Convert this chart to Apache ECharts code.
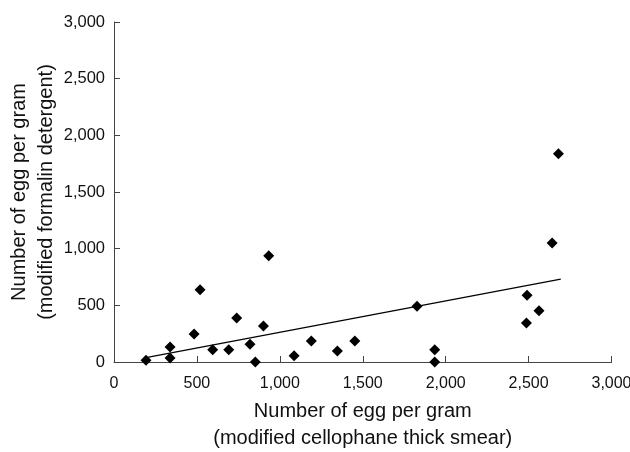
<!DOCTYPE html>
<html>
<head>
<meta charset="utf-8">
<script src="https://cdn.jsdelivr.net/npm/echarts@6/dist/echarts.min.js"></script>
<style>
    html, body { margin: 0; padding: 0; background: #fff; }
    #main { width: 630px; height: 452px; }
</style>
</head>
<body>
<div id="main"></div>
<script>
// 数据 ---------------------------------------------------------------
var cellophaneEpg = [193, 338, 338, 483, 519, 595, 692, 740, 820, 852, 901, 933, 1086, 1190, 1347, 1452, 1827, 1934, 1934, 2491, 2487, 2563, 2642, 2680];
var formalinEpg = [15, 132, 35, 247, 638, 109, 109, 388, 156, 0, 317, 938, 56, 185, 97, 185, 491, 109, 0, 588, 344, 453, 1049, 1838];
var trendX = [193, 2694];
var trendY = [39, 732];
var tickValues = [0, 500, 1000, 1500, 2000, 2500, 3000];

var points = [];
for (i = 0; i < cellophaneEpg.length; i++) {
    points.push([cellophaneEpg[i], formalinEpg[i]]);
}
var trend = [];
for (i = 0; i < trendX.length; i++) {
    trend.push([trendX[i], trendY[i]]);
}

function fmt(v) {
    return v.toString().replace(/\B(?=(\d{3})+(?!\d))/g, ',');
}

var font = 'Liberation Sans';
var myChart = echarts.init(document.getElementById('main'));
var option = {
    animation: false,
    textStyle: { fontFamily: font },
    grid: {
        left: 114,
        right: 18.5,
        top: 22,
        bottom: 90,
        outerBoundsMode: 'none',
        containLabel: false
    },
    xAxis: {
        type: 'value',
        min: tickValues[0],
        max: tickValues[tickValues.length - 1],
        interval: 500,
        name: 'Number of egg per gram\n(modified cellophane thick smear)',
        nameLocation: 'middle',
        nameGap: 36,
        nameMoveOverlap: false,
        nameTextStyle: { color: '#111', fontSize: 20, lineHeight: 27, fontFamily: font },
        splitLine: { show: false },
        axisLine: { lineStyle: { color: '#444', width: 1 } },
        axisTick: { inside: true, length: 6, lineStyle: { color: '#444' } },
        axisLabel: { color: '#111', fontSize: 16, margin: 14, formatter: fmt, fontFamily: font }
    },
    yAxis: {
        type: 'value',
        min: tickValues[0],
        max: tickValues[tickValues.length - 1],
        interval: 500,
        name: 'Number of egg per gram\n(modified formalin detergent)',
        nameLocation: 'middle',
        nameGap: 54,
        nameMoveOverlap: false,
        nameTextStyle: { color: '#111', fontSize: 20, lineHeight: 27, fontFamily: font },
        splitLine: { show: false },
        axisLine: { show: true, lineStyle: { color: '#444', width: 1 } },
        axisTick: { show: true, inside: true, length: 6, lineStyle: { color: '#444' } },
        axisLabel: { color: '#111', fontSize: 16.5, margin: 9, formatter: fmt, fontFamily: font }
    },
    series: [
        {
            name: 'trend',
            type: 'line',
            data: trend,
            symbol: 'none',
            lineStyle: { color: '#000', width: 1.2 },
            z: 2
        },
        {
            name: 'samples',
            type: 'scatter',
            data: points,
            symbol: 'diamond',
            symbolSize: 11,
            itemStyle: { color: '#000', opacity: 1 },
            z: 3
        }
    ]
};
option && myChart.setOption(option);
</script>
</body>
</html>
